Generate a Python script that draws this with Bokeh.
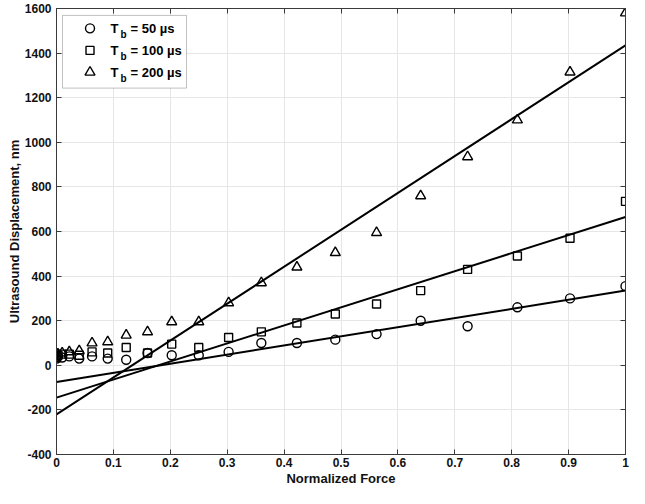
from bokeh.plotting import figure
from bokeh.models import (Range1d, FixedTicker, PrintfTickFormatter, LinearAxis,
                          BoxAnnotation, ColumnDataSource)
from bokeh.core.properties import value
from bokeh.embed import file_html
from bokeh.resources import INLINE

# ---------------- data ----------------
force = [0.0, 0.0025, 0.01, 0.0225, 0.04, 0.0625, 0.09, 0.1225, 0.16, 0.2025, 0.25,
         0.3025, 0.36, 0.4225, 0.49, 0.5625, 0.64, 0.7225, 0.81, 0.9025, 1.0]
disp_50 = [30, 40, 35, 40, 30, 40, 30, 25, 55, 45, 45,
           60, 100, 100, 115, 140, 200, 175, 260, 300, 355]
disp_100 = [35, 45, 50, 50, 45, 60, 55, 80, 55, 95, 80,
            125, 150, 190, 230, 275, 335, 430, 490, 570, 735]
disp_200 = [40, 50, 55, 60, 65, 100, 105, 135, 150, 195, 195,
            280, 370, 440, 505, 595, 760, 935, 1100, 1315, 1580]

# linear fits (intercept, slope)
fit_intercept = [-75, -145, -220]
fit_slope = [410, 810, 1655]
fit_x = [0.0, 1.0]

series_names = ["50", "100", "200"]
markers = ["circle", "square", "triangle"]
marker_sizes = [9, 8, 10]

x_ticks = [0, 0.1, 0.2, 0.3, 0.4, 0.5, 0.6, 0.7, 0.8, 0.9, 1.0]
y_ticks = [-400, -200, 0, 200, 400, 600, 800, 1000, 1200, 1400, 1600]

FONT = "Liberation Sans"
AXIS_COL = "#3a3a3a"

p = figure(width=629, height=488, output_backend="svg", toolbar_location=None,
           x_range=Range1d(0, 1), y_range=Range1d(-400, 1600),
           min_border_left=56, min_border_right=4, min_border_top=8, min_border_bottom=30,
           background_fill_color="white", border_fill_color="white")
p.outline_line_color = AXIS_COL
p.outline_line_width = 1

for ax, ticks in ((p.xaxis[0], x_ticks), (p.yaxis[0], y_ticks)):
    ax.ticker = FixedTicker(ticks=ticks)
    ax.formatter = PrintfTickFormatter(format="%g")
    ax.major_tick_in = 5
    ax.major_tick_out = 0
    ax.minor_tick_line_color = None
    ax.axis_line_color = AXIS_COL
    ax.major_tick_line_color = AXIS_COL
    ax.major_label_text_font = FONT
    ax.major_label_text_font_style = "bold"
    ax.major_label_text_font_size = "12px"
    ax.major_label_text_color = "#111111"
    ax.axis_label_text_font = FONT
    ax.axis_label_text_font_style = "bold"
    ax.axis_label_text_font_size = "13px"
    ax.axis_label_text_color = "#111111"

p.xaxis[0].axis_label = "Normalized Force"
p.xaxis[0].major_label_standoff = 3
p.xaxis[0].axis_label_standoff = 1
p.yaxis[0].axis_label = "Ultrasound Displacement, nm"
p.yaxis[0].major_label_standoff = 5
p.yaxis[0].axis_label_standoff = 0

# mirrored tick axes on top and right (ticks only)
for loc, ticks in (("above", x_ticks), ("right", y_ticks)):
    ax = LinearAxis(ticker=FixedTicker(ticks=ticks), major_tick_in=5, major_tick_out=0,
                    minor_tick_line_color=None, axis_line_color=AXIS_COL,
                    major_tick_line_color=AXIS_COL, major_label_text_font_size="1px",
                    major_label_text_color=None, major_label_standoff=0)
    p.add_layout(ax, loc)

p.xgrid.ticker = FixedTicker(ticks=x_ticks)
p.ygrid.ticker = FixedTicker(ticks=y_ticks)
p.grid.grid_line_color = "#e6e6e6"
p.grid.grid_line_width = 1

# fit lines
for b, m in zip(fit_intercept, fit_slope):
    p.line(fit_x, [b + m * xv for xv in fit_x], line_color="black", line_width=2)

# data points
for ys, mk, sz in zip([disp_50, disp_100, disp_200], markers, marker_sizes):
    p.scatter(force, ys, marker=mk, size=sz, fill_color=None,
              line_color="black", line_width=1.4)

# manual legend (with subscript)
legend_box = BoxAnnotation(left=0.0105, right=0.2285, top=1569, bottom=1243,
                           fill_color="white", fill_alpha=1.0,
                           line_color="#333333", line_width=1, level="annotation")
p.add_layout(legend_box)
leg_y = [1511, 1412, 1314]
leg_src = ColumnDataSource(dict(x=[0.0589] * 3, tx=[0.0949] * 3, y=leg_y, m=markers,
                                s=marker_sizes, T=["T"] * 3, b=["b"] * 3,
                                rest=["= %s \u00b5s" % n for n in series_names]))
p.scatter("x", "y", marker="m", size="s", source=leg_src, fill_color=None,
          line_color="black", line_width=1.4, level="overlay")
p.text("tx", "y", text="T", source=leg_src, text_font=value(FONT), text_font_style="bold",
       text_font_size="13px", text_baseline="middle", text_align="left", level="overlay")
p.text("tx", "y", text="b", source=leg_src, text_font=value(FONT), text_font_style="bold",
       text_font_size="10px", text_baseline="middle", text_align="left",
       x_offset=10, y_offset=6, level="overlay")
p.text("tx", "y", text="rest", source=leg_src, text_font=value(FONT), text_font_style="bold",
       text_font_size="13px", text_baseline="middle", text_align="left",
       x_offset=20, level="overlay")

open("out.html", "w").write(file_html(p, INLINE))
